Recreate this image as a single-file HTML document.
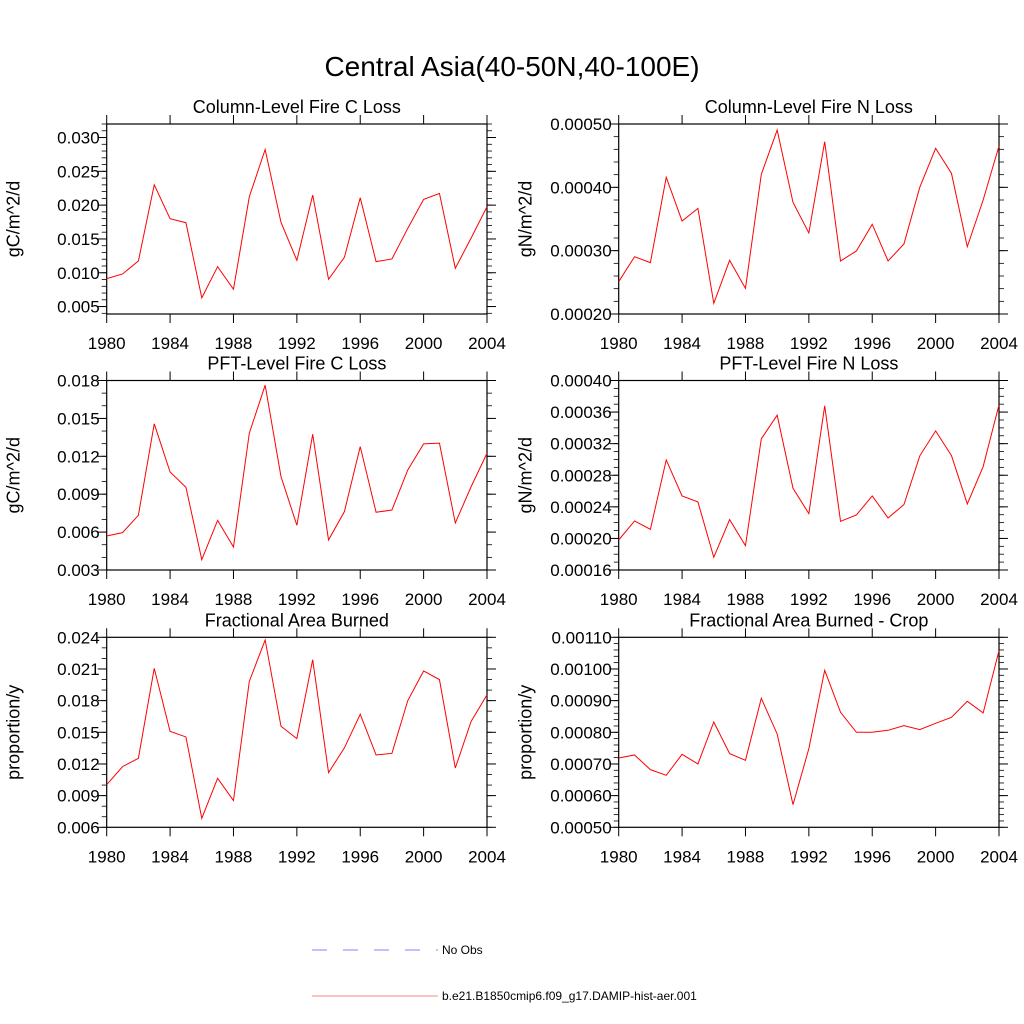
<!DOCTYPE html>
<html><head><meta charset="utf-8"><style>
html,body{margin:0;padding:0;background:#fff;width:1024px;height:1024px;overflow:hidden}
svg{display:block;font-family:"Liberation Sans",Arial,sans-serif}
</style></head><body>
<svg id="chart" width="1024" height="1024" viewBox="0 0 1024 1024" xmlns="http://www.w3.org/2000/svg">
<rect width="1024" height="1024" fill="#fff"/>
<text x="512" y="76" font-size="28" text-anchor="middle">Central Asia(40-50N,40-100E)</text>
<g>
<line x1="312" y1="950" x2="438" y2="950" stroke="#8080ff" stroke-width="1" stroke-dasharray="15,16"/>
<text x="442" y="954" font-size="12">No Obs</text>
<line x1="312" y1="996" x2="438" y2="996" stroke="#ff8080" stroke-width="1"/>
<text x="442" y="1000" font-size="12">b.e21.B1850cmip6.f09_g17.DAMIP-hist-aer.001</text>
</g>
</svg>
<script>
const years = [1980,1981,1982,1983,1984,1985,1986,1987,1988,1989,1990,1991,1992,1993,1994,1995,1996,1997,1998,1999,2000,2001,2002,2003,2004];
const xTicks = [1980,1984,1988,1992,1996,2000,2004];
const colCLoss = [0.00913,0.00982,0.01174,0.02301,0.01799,0.0174,0.00628,0.0109,0.00756,0.02124,0.02823,0.01745,0.01184,0.02149,0.00904,0.01228,0.02109,0.01164,0.01204,0.01657,0.02085,0.02173,0.01066,0.01514,0.01976];
const colNLoss = [0.000251,0.0002905,0.0002811,0.0004158,0.0003468,0.0003668,0.0002168,0.0002847,0.0002405,0.0004205,0.0004905,0.0003763,0.0003279,0.0004721,0.0002837,0.0002995,0.0003416,0.0002837,0.0003105,0.0004,0.0004616,0.0004221,0.0003063,0.00038,0.0004653];
const pftCLoss = [0.00569,0.00596,0.00733,0.01457,0.01076,0.00955,0.00382,0.00693,0.00482,0.01383,0.01763,0.01039,0.00654,0.01375,0.00538,0.00762,0.01277,0.00757,0.00775,0.01092,0.01298,0.01304,0.00672,0.0096,0.01224];
const pftNLoss = [0.000198,0.0002221,0.0002115,0.0002994,0.0002538,0.0002462,0.0001761,0.0002238,0.0001908,0.0003261,0.0003561,0.0002635,0.0002314,0.0003679,0.0002217,0.0002297,0.0002538,0.0002259,0.0002428,0.0003045,0.0003362,0.0003049,0.0002437,0.000291,0.0003692];
const areaBurned = [0.01004,0.01175,0.01254,0.02106,0.01509,0.01456,0.00685,0.01064,0.00853,0.01983,0.02375,0.01557,0.0144,0.02188,0.01118,0.01352,0.01671,0.01285,0.01301,0.018,0.02081,0.01999,0.01162,0.01604,0.01854];
const areaCrop = [0.0007189,0.0007284,0.0006821,0.0006642,0.0007305,0.0007,0.0008326,0.0007326,0.0007116,0.0009074,0.0007947,0.0005716,0.0007484,0.0009958,0.0008632,0.0008,0.0008,0.0008063,0.0008211,0.0008084,0.0008284,0.0008474,0.0008979,0.0008611,0.0010579];
const tickC1 = ["0.005","0.010","0.015","0.020","0.025","0.030"];
const tickN1 = ["0.00020","0.00030","0.00040","0.00050"];
const tickC2 = ["0.003","0.006","0.009","0.012","0.015","0.018"];
const tickN2 = ["0.00016","0.00020","0.00024","0.00028","0.00032","0.00036","0.00040"];
const tickA1 = ["0.006","0.009","0.012","0.015","0.018","0.021","0.024"];
const tickA2 = ["0.00050","0.00060","0.00070","0.00080","0.00090","0.00100","0.00110"];

const NS="http://www.w3.org/2000/svg";
const svg=document.getElementById('chart');
function mk(tag,attrs,parent){const e=document.createElementNS(NS,tag);for(const k in attrs)e.setAttribute(k,attrs[k]);(parent||svg).appendChild(e);return e;}

const panels=[
 {id:'column-c-loss',title:'Column-Level Fire C Loss',ylab:'gC/m^2/d',x0:106.7,x1:487,y0:124,y1:314,ymin:0.0039,ymax:0.0320,ticks:tickC1,minor:0.001,data:colCLoss},
 {id:'column-n-loss',title:'Column-Level Fire N Loss',ylab:'gN/m^2/d',x0:618.7,x1:999,y0:124,y1:314,ymin:0.0002,ymax:0.0005,ticks:tickN1,minor:0.00002,data:colNLoss},
 {id:'pft-c-loss',title:'PFT-Level Fire C Loss',ylab:'gC/m^2/d',x0:106.7,x1:487,y0:380.5,y1:570,ymin:0.003,ymax:0.018,ticks:tickC2,minor:0.001,data:pftCLoss},
 {id:'pft-n-loss',title:'PFT-Level Fire N Loss',ylab:'gN/m^2/d',x0:618.7,x1:999,y0:380.5,y1:570,ymin:0.00016,ymax:0.0004,ticks:tickN2,minor:0.00001,data:pftNLoss},
 {id:'area-burned',title:'Fractional Area Burned',ylab:'proportion/y',x0:106.7,x1:487,y0:637.3,y1:827.3,ymin:0.006,ymax:0.024,ticks:tickA1,minor:0.001,data:areaBurned},
 {id:'area-burned-crop',title:'Fractional Area Burned - Crop',ylab:'proportion/y',x0:618.7,x1:999,y0:637.3,y1:827.3,ymin:0.0005,ymax:0.0011,ticks:tickA2,minor:0.00002,data:areaCrop}
];

panels.forEach(p=>{
 const g=mk('g',{});
 
 
 const xs=v=>p.x0+(v-1980)/(2004-1980)*(p.x1-p.x0);
 const ys=v=>p.y1-(v-p.ymin)/(p.ymax-p.ymin)*(p.y1-p.y0);
 const frame=mk('rect',{x:p.x0,y:p.y0,width:p.x1-p.x0,height:p.y1-p.y0,fill:'none',stroke:'#000','stroke-width':1.2},g);
 
 
 xTicks.forEach(t=>{
  const x=xs(t);
  mk('line',{x1:x,y1:p.y0,x2:x,y2:p.y0-9,stroke:'#000','stroke-width':1},g);
  mk('line',{x1:x,y1:p.y1,x2:x,y2:p.y1+9,stroke:'#000','stroke-width':1},g);
  const tl=mk('text',{x:x,y:p.y1+35,'font-size':17,'text-anchor':'middle'},g);
  tl.textContent=String(t);
  
  
 });
 for(let v=Math.ceil(p.ymin/p.minor-1e-6)*p.minor; v<=p.ymax+1e-12; v+=p.minor){
  const y=ys(v);
  mk('line',{x1:p.x0,y1:y,x2:p.x0-5,y2:y,stroke:'#000','stroke-width':0.8},g);
  mk('line',{x1:p.x1,y1:y,x2:p.x1+5,y2:y,stroke:'#000','stroke-width':0.8},g);
 }
 p.ticks.forEach(s=>{
  const v=parseFloat(s), y=ys(v);
  mk('line',{x1:p.x0,y1:y,x2:p.x0-9,y2:y,stroke:'#000','stroke-width':1},g);
  mk('line',{x1:p.x1,y1:y,x2:p.x1+9,y2:y,stroke:'#000','stroke-width':1},g);
  const tl=mk('text',{x:p.x0-7,y:y+6,'font-size':17,'text-anchor':'end'},g);
  tl.textContent=s;
  
  
 });
 const title=mk('text',{x:(p.x0+p.x1)/2,y:p.y0-11,'font-size':18,'text-anchor':'middle'},g);
 title.textContent=p.title;
 
 
 const yl=mk('text',{x:0,y:0,'font-size':18,'text-anchor':'middle',transform:`translate(${p.x0-87},${(p.y0+p.y1)/2}) rotate(-90)`},g);
 yl.textContent=p.ylab;
 
 
 const pts=p.data.map((v,i)=>xs(years[i]).toFixed(2)+','+ys(v).toFixed(2)).join(' ');
 const line=mk('polyline',{points:pts,fill:'none',stroke:'#ff0000','stroke-width':1},g);
 
 
});
</script>
</body></html>
